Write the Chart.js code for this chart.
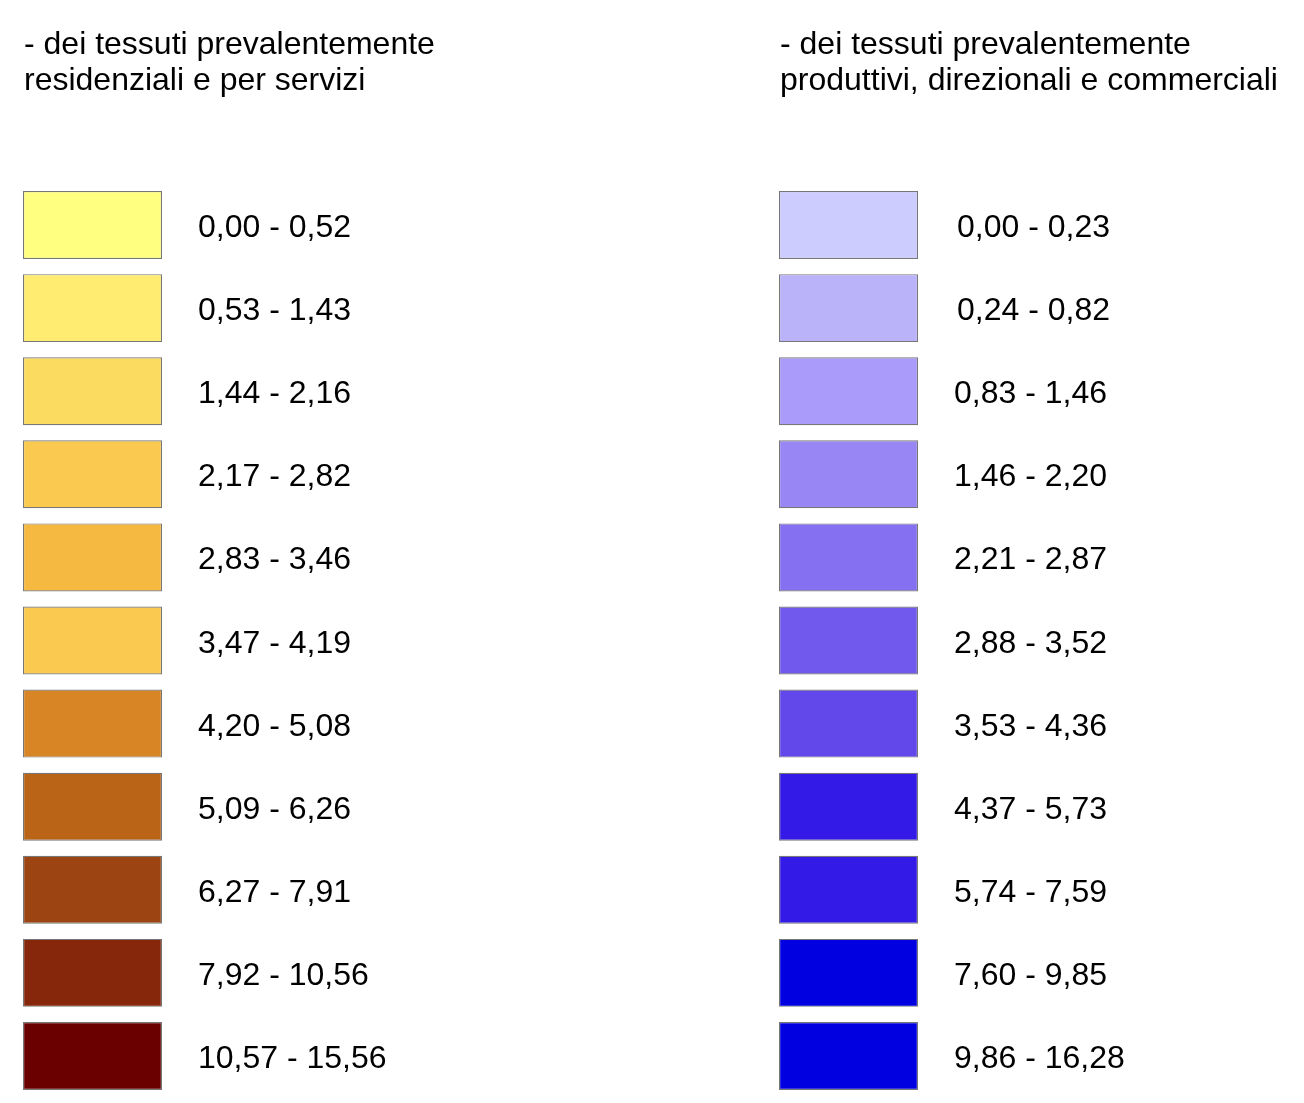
<!DOCTYPE html>
<html>
<head>
<meta charset="utf-8">
<script src="https://cdn.jsdelivr.net/npm/chart.js"></script>
<style>
    html, body { margin: 0; padding: 0; background: #ffffff; }
    canvas { display: block; }
</style>
</head>
<body>
<canvas id="legend" width="1304" height="1103"></canvas>
<script>
// Column titles
const leftTitle = ["- dei tessuti prevalentemente", "residenziali e per servizi"];
const rightTitle = ["- dei tessuti prevalentemente", "produttivi, direzionali e commerciali"];

// Class ranges
const leftRanges = [
    "0,00 - 0,52", "0,53 - 1,43", "1,44 - 2,16", "2,17 - 2,82", "2,83 - 3,46", "3,47 - 4,19",
    "4,20 - 5,08", "5,09 - 6,26", "6,27 - 7,91", "7,92 - 10,56", "10,57 - 15,56"
];
const rightRanges = [
    "0,00 - 0,23", "0,24 - 0,82", "0,83 - 1,46", "1,46 - 2,20", "2,21 - 2,87", "2,88 - 3,52",
    "3,53 - 4,36", "4,37 - 5,73", "5,74 - 7,59", "7,60 - 9,85", "9,86 - 16,28"
];

// Swatch colours
const leftColors = [
    '#FFFF80', '#FFEC70', '#FCDC60', '#FACA50', '#F5B840', '#FACA50',
    '#D88625', '#BA6418', '#9C4412', '#86260A', '#6B0000'
];
const rightColors = [
    '#CCCCFF', '#BBB3FA', '#AA9AF9', '#9986F5', '#8670F2', '#7259EE',
    '#6248EB', '#341AE6', '#341AE6', '#0000E0', '#0000E0'
];

// Layout (pixels)
const COL_X = [23, 779];
const SWATCH_W = 139;
const LABEL_GAP = 36;
const FONT = '32px "Liberation Sans", Arial, sans-serif';

const rowLabels = leftRanges.map((_, i) => String(i));

const legendText = {
    id: 'legendText',
    afterDatasetsDraw(chart) {
        const ctx = chart.ctx;
        ctx.save();
        ctx.fillStyle = '#000000';
        ctx.font = FONT;
        ctx.textAlign = 'left';
        ctx.textBaseline = 'alphabetic';

        // titles
        [leftTitle, rightTitle].forEach((lines, c) => {
            lines.forEach((line, j) => {
                ctx.fillText(line, COL_X[c] + 1, 54 + j * 36);
            });
        });

        // range labels next to each swatch
        [leftRanges, rightRanges].forEach((ranges, c) => {
            const meta = chart.getDatasetMeta(c);
            meta.data.forEach((bar, i) => {
                // the first two right-hand labels sit a little further right
                const nudge = (c === 1 && i < 2) ? 3 : 0;
                ctx.fillText(ranges[i], bar.x + LABEL_GAP + nudge, bar.y + 12);
            });
        });
        ctx.restore();
    }
};

const makeColumn = (c, colors) => ({
    data: rowLabels.map(() => [COL_X[c], COL_X[c] + SWATCH_W]),
    backgroundColor: colors,
    borderColor: '#777777',
    borderWidth: 1.2,
    borderSkipped: false,
    barPercentage: 0.818,
    categoryPercentage: 1,
    grouped: false,
});

new Chart(document.getElementById('legend').getContext('2d'), {
    type: 'bar',
    data: {
        labels: rowLabels,
        datasets: [makeColumn(0, leftColors), makeColumn(1, rightColors)],
    },
    plugins: [legendText],
    options: {
        indexAxis: 'y',
        responsive: false,
        devicePixelRatio: 1,
        animation: false,
        layout: {
            padding: { top: 183.5, bottom: 5.5, left: 0, right: 0 }
        },
        scales: {
            x: { type: 'linear', min: 0, max: 1304, display: false },
            y: { type: 'category', display: false, offset: true }
        },
        plugins: {
            legend: { display: false },
            tooltip: { enabled: false }
        }
    }
});
</script>
</body>
</html>
